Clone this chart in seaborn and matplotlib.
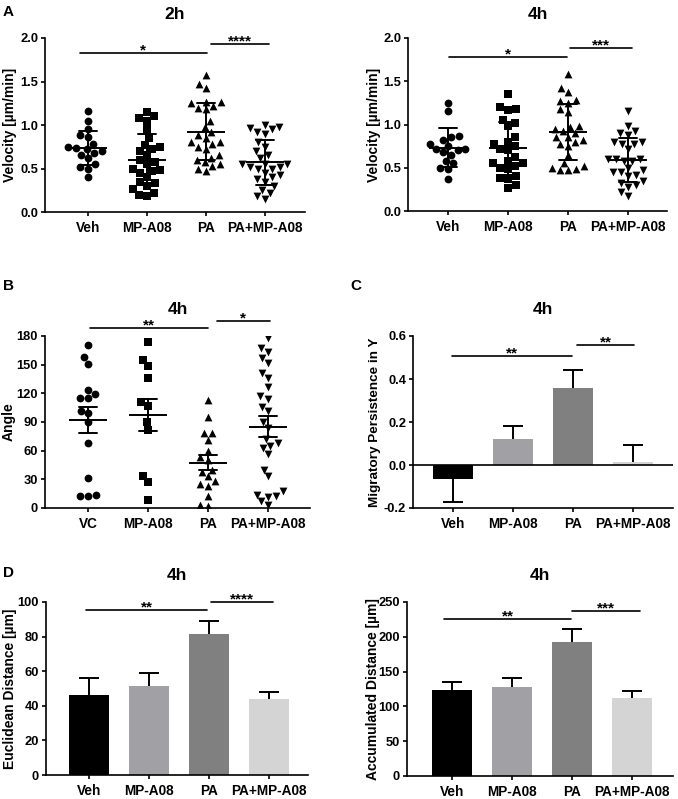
import numpy as np
import pandas as pd
import matplotlib
matplotlib.use('Agg')
import matplotlib.pyplot as plt
import seaborn as sns

#### Data
groups = ['Veh', 'MP-A08', 'PA', 'PA+MP-A08']
groups_b = ['VC', 'MP-A08', 'PA', 'PA+MP-A08']

# A: velocity at 2h [um/min]
vel2_veh = [1.16, 1.05, 0.95, 0.88, 0.86, 0.78, 0.75, 0.73, 0.72, 0.70, 0.68, 0.66, 0.62, 0.55, 0.52, 0.50, 0.40]
vel2_mp = [1.15, 1.10, 1.08, 1.05, 0.95, 0.85, 0.77, 0.75, 0.72, 0.70, 0.65, 0.60, 0.58, 0.55, 0.50, 0.48,
           0.47, 0.45, 0.40, 0.35, 0.33, 0.30, 0.26, 0.22, 0.20, 0.18]
vel2_pa = [1.58, 1.47, 1.42, 1.27, 1.26, 1.25, 1.22, 1.20, 1.18, 1.05, 0.98, 0.92, 0.88, 0.85, 0.80, 0.80,
           0.78, 0.75, 0.72, 0.65, 0.62, 0.60, 0.57, 0.55, 0.53, 0.50, 0.47]
vel2_pamp = [1.00, 0.98, 0.97, 0.95, 0.92, 0.90, 0.80, 0.75, 0.70, 0.65, 0.62, 0.55, 0.55, 0.52, 0.50, 0.55,
             0.52, 0.50, 0.42, 0.45, 0.40, 0.38, 0.35, 0.30, 0.25, 0.22, 0.18, 0.15]

# A: velocity at 4h [um/min]
vel4_veh = [1.25, 1.16, 0.87, 0.85, 0.82, 0.78, 0.75, 0.72, 0.72, 0.70, 0.68, 0.65, 0.58, 0.55, 0.50, 0.48, 0.37]
vel4_mp = [1.35, 1.20, 1.18, 1.17, 1.05, 1.02, 0.98, 0.85, 0.80, 0.78, 0.75, 0.72, 0.70, 0.62, 0.58, 0.55,
           0.55, 0.52, 0.50, 0.48, 0.40, 0.38, 0.37, 0.30, 0.27]
vel4_pa = [1.58, 1.42, 1.38, 1.28, 1.27, 1.25, 1.18, 1.15, 0.98, 0.97, 0.95, 0.92, 0.90, 0.85, 0.85, 0.82,
           0.80, 0.77, 0.75, 0.65, 0.55, 0.52, 0.50, 0.48, 0.47, 0.47]
vel4_pamp = [1.16, 0.98, 0.92, 0.90, 0.88, 0.80, 0.78, 0.80, 0.78, 0.72, 0.60, 0.58, 0.60, 0.60, 0.58, 0.50,
             0.45, 0.42, 0.47, 0.45, 0.40, 0.35, 0.32, 0.30, 0.28, 0.22, 0.17]

# B: angle at 4h
ang_vc = [171, 158, 151, 124, 119, 115, 115, 102, 99, 90, 68, 31, 14, 13, 13]
ang_mp = [174, 155, 149, 136, 111, 107, 90, 82, 33, 27, 8]
ang_pa = [113, 95, 78, 78, 71, 60, 53, 50, 40, 38, 33, 28, 25, 23, 13, 3, 2]
ang_pamp = [178, 167, 163, 157, 152, 141, 136, 127, 117, 114, 106, 101, 90, 84, 72, 68, 65, 63, 57, 40,
            33, 18, 14, 13, 12, 7, 3]

# C: migratory persistence in Y (mean, SEM)
pers_mean = [-0.065, 0.12, 0.36, 0.012]
pers_sem = [0.105, 0.06, 0.08, 0.083]

# D: euclidean / accumulated distance [um] (mean, SEM)
eucl_mean = [46.5, 51.5, 81.5, 44.0]
eucl_sem = [9.5, 7.5, 7.5, 4.0]
accu_mean = [123.5, 128.5, 192.0, 111.5]
accu_sem = [11.0, 12.0, 19.5, 11.0]

markers = ['o', 's', '^', 'v']
bar_colors = ['#000000', '#a1a1a5', '#808080', '#d4d4d4']

#### Style
sns.set_style('ticks')
plt.rcParams['font.family'] = ['Liberation Sans', 'DejaVu Sans']
plt.rcParams['font.weight'] = 'bold'
plt.rcParams['axes.labelweight'] = 'bold'
plt.rcParams['axes.titleweight'] = 'bold'
plt.rcParams['axes.linewidth'] = 1.2
plt.rcParams['xtick.major.width'] = 1.2
plt.rcParams['ytick.major.width'] = 1.2
plt.rcParams['xtick.major.size'] = 3
plt.rcParams['ytick.major.size'] = 3
plt.rcParams['ytick.major.pad'] = 2
plt.rcParams['xtick.labelsize'] = 9.8
plt.rcParams['ytick.labelsize'] = 9.3
plt.rcParams['axes.labelsize'] = 10
plt.rcParams['text.color'] = 'black'
plt.rcParams['axes.labelcolor'] = 'black'
plt.rcParams['xtick.color'] = 'black'
plt.rcParams['ytick.color'] = 'black'
plt.rcParams['axes.edgecolor'] = 'black'

W, H = 678, 799
fig = plt.figure(figsize=(W / 100, H / 100), dpi=100)


def rect(l, r, t, b):
    return [l / W, 1 - b / H, (r - l) / W, (b - t) / H]


def finish(ax, title, ylabel, ylim, yticks, fmt, xlim, pad, label_x, lsize=10):
    ax.set_ylim(*ylim)
    ax.set_yticks(yticks)
    ax.set_yticklabels([fmt.format(t) for t in yticks])
    ax.set_xlim(*xlim)
    ax.set_xlabel('')
    ax.set_ylabel(ylabel, va='center', fontsize=lsize)
    # place the y label centre at a given pixel column
    pos = ax.get_position()
    ax.yaxis.set_label_coords((label_x / W - pos.x0) / pos.width, 0.5)
    ax.set_title(title, fontsize=12.5, pad=pad)
    sns.despine(ax=ax)


def signif(ax, specs):
    for x1, x2, y, star in specs:
        ax.plot([x1, x2], [y, y], color='black', lw=1.2, clip_on=False)
        ax.annotate(star, xy=((x1 + x2) / 2, y), xytext=(0, -1), textcoords='offset points',
                    ha='center', va='baseline', fontsize=11, fontweight='bold', annotation_clip=False)


def scatter_panel(ax, values, labels, err):
    df = pd.DataFrame({'group': np.repeat(labels, [len(v) for v in values]),
                       'value': np.concatenate(values)})
    for lab, mk in zip(labels, markers):
        sns.swarmplot(data=df[df.group == lab], x='group', y='value', order=labels, marker=mk,
                      color='black', size=5.6, ax=ax)
    sns.pointplot(data=df, x='group', y='value', order=labels, errorbar=err, capsize=0.3,
                  linestyle='none', marker='_', markersize=28, markeredgewidth=1.4, color='black',
                  err_kws={'linewidth': 1.4}, ax=ax)


def bar_panel(ax, means, sems):
    sns.barplot(x=groups, y=means, order=groups, hue=groups, palette=bar_colors, legend=False,
                width=0.66, errorbar=None, linewidth=0, ax=ax)
    # one-sided error bars pointing away from zero
    means = np.array(means)
    tops = means + np.sign(means) * np.array(sems)
    xs = np.arange(len(means))
    ax.vlines(xs, means, tops, color='black', lw=1.4)
    ax.hlines(tops, xs - 0.17, xs + 0.17, color='black', lw=1.4)


#### A: velocity 2h
ax = fig.add_axes(rect(45, 305, 38, 212))
scatter_panel(ax, [vel2_veh, vel2_mp, vel2_pa, vel2_pamp], groups, 'sd')
finish(ax, '2h', 'Velocity [µm/min]', (0, 2.0), [0, 0.5, 1.0, 1.5, 2.0], '{:.1f}', (-0.73, 3.68), 14, 10)
signif(ax, [(-0.14, 2.02, 1.83, '*'), (2.08, 3.07, 1.93, '****')])

#### A: velocity 4h
ax = fig.add_axes(rect(408, 667, 38, 211))
scatter_panel(ax, [vel4_veh, vel4_mp, vel4_pa, vel4_pamp], groups, 'sd')
finish(ax, '4h', 'Velocity [µm/min]', (0, 2.0), [0, 0.5, 1.0, 1.5, 2.0], '{:.1f}', (-0.67, 3.65), 14, 374)
signif(ax, [(0.02, 1.98, 1.78, '*'), (2.03, 3.07, 1.88, '***')])

#### B: angle
ax = fig.add_axes(rect(45, 310, 336, 508))
scatter_panel(ax, [ang_vc, ang_mp, ang_pa, ang_pamp], groups_b, 'se')
finish(ax, '4h', 'Angle', (0, 180), list(range(0, 181, 30)), '{:d}', (-0.72, 3.7), 16, 9)
signif(ax, [(0.03, 2.0, 188, '**'), (2.15, 3.03, 196, '*')])

#### C: migratory persistence
ax = fig.add_axes(rect(413, 673, 336, 508))
bar_panel(ax, pers_mean, pers_sem)
ax.axhline(0, color='black', lw=1.2)
finish(ax, '4h', 'Migratory Persistence in Y', (-0.2, 0.6), [-0.2, 0.0, 0.2, 0.4, 0.6], '{:.1f}',
       (-0.67, 3.67), 16, 375, lsize=9.7)
signif(ax, [(-0.02, 1.98, 0.507, '**'), (2.07, 3.02, 0.558, '**')])

#### D: euclidean distance
ax = fig.add_axes(rect(46, 308, 602, 775))
bar_panel(ax, eucl_mean, eucl_sem)
finish(ax, '4h', 'Euclidean Distance [µm]', (0, 100), list(range(0, 101, 20)), '{:d}', (-0.72, 3.65), 16, 10)
signif(ax, [(-0.05, 1.97, 95.4, '**'), (2.03, 3.07, 100, '****')])

#### D: accumulated distance
ax = fig.add_axes(rect(407, 673, 602, 776))
bar_panel(ax, accu_mean, accu_sem)
finish(ax, '4h', 'Accumulated Distance [µm]', (0, 250), list(range(0, 251, 50)), '{:d}', (-0.75, 3.68), 16, 373)
signif(ax, [(-0.13, 1.98, 225.6, '**'), (2.0, 3.13, 237, '***')])

#### panel letters
for x, y, letter in [(3, 5, 'A'), (3, 279, 'B'), (350, 279, 'C'), (3, 566, 'D')]:
    fig.text(x / W, 1 - y / H, letter, fontsize=11, fontweight='bold', va='top', ha='left')

fig.savefig('out.png', dpi=100)
